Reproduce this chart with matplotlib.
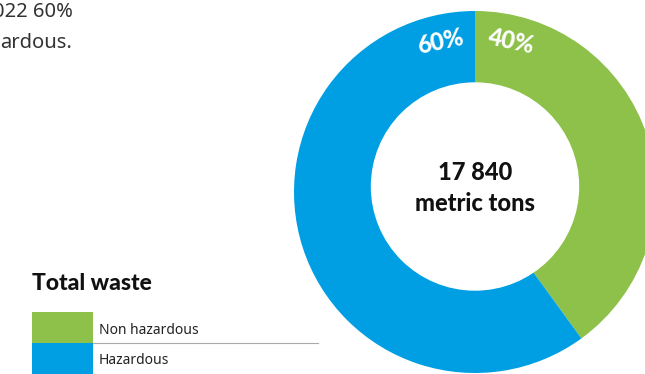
import matplotlib
matplotlib.use('Agg')
import matplotlib.pyplot as plt
from matplotlib.patches import Circle, Rectangle

# waste split, percent of total
categories = ['Non hazardous', 'Hazardous']
shares = [40, 60]
colors = ['#8dc14a', '#009fe3']
total_label = '17 840'
unit_label = 'metric tons'

W, H = 645, 374
plt.rcParams['font.family'] = ['Noto Sans', 'DejaVu Sans']
bold = ['Lato', 'DejaVu Sans']

fig = plt.figure(figsize=(W / 100, H / 100), dpi=100)
ax = fig.add_axes([0, 0, 1, 1])

# donut: full pie, then a white hole on top
cx, cy, r_out, r_in = 475, 192, 181, 103.5
ax.pie(shares, colors=colors, startangle=-90, counterclock=True,
       center=(cx, cy), radius=r_out, frame=True)
ax.set_xlim(0, W)
ax.set_ylim(H, 0)
ax.set_aspect('equal')
ax.axis('off')
ax.add_patch(Circle((cx, 186.5), r_in, color='white', zorder=3))

ax.text(cx, 172, total_label, ha='center', va='center', fontsize=17,
        fontweight='black', family=bold, color='#111111', zorder=4)
ax.text(cx, 203, unit_label, ha='center', va='center', fontsize=17,
        fontweight='black', family=bold, color='#111111', zorder=4)

# percent labels either side of the top seam
ax.text(440, 42, f'{shares[1]}%', ha='center', va='center', fontsize=17,
        fontweight='black', family=bold, color='white', rotation=12, zorder=4)
ax.text(511, 42, f'{shares[0]}%', ha='center', va='center', fontsize=17,
        fontweight='black', family=bold, color='white', rotation=-12, zorder=4)

# intro text, cut by the left edge
ax.text(73, 12, '022 60%', ha='right', va='center', fontsize=14.5,
        color='#333333')
ax.text(0, 43, 'ardous.', ha='left', va='center', fontsize=14.5,
        color='#333333')

# legend block
ax.text(32, 284, 'Total waste', ha='left', va='center', fontsize=16.5,
        fontweight='black', family=bold, color='#111111')
ax.add_patch(Rectangle((32, 312), 61, 31, color=colors[0], lw=0))
ax.add_patch(Rectangle((32, 343), 61, 31, color=colors[1], lw=0))
ax.plot([93, 318], [343, 343], color='#aaaaaa', lw=0.8)
ax.text(99, 330, categories[0], ha='left', va='center', fontsize=10,
        color='#222222')
ax.text(99, 361, categories[1], ha='left', va='center', fontsize=10,
        color='#222222')

fig.savefig('out.png', dpi=100)
